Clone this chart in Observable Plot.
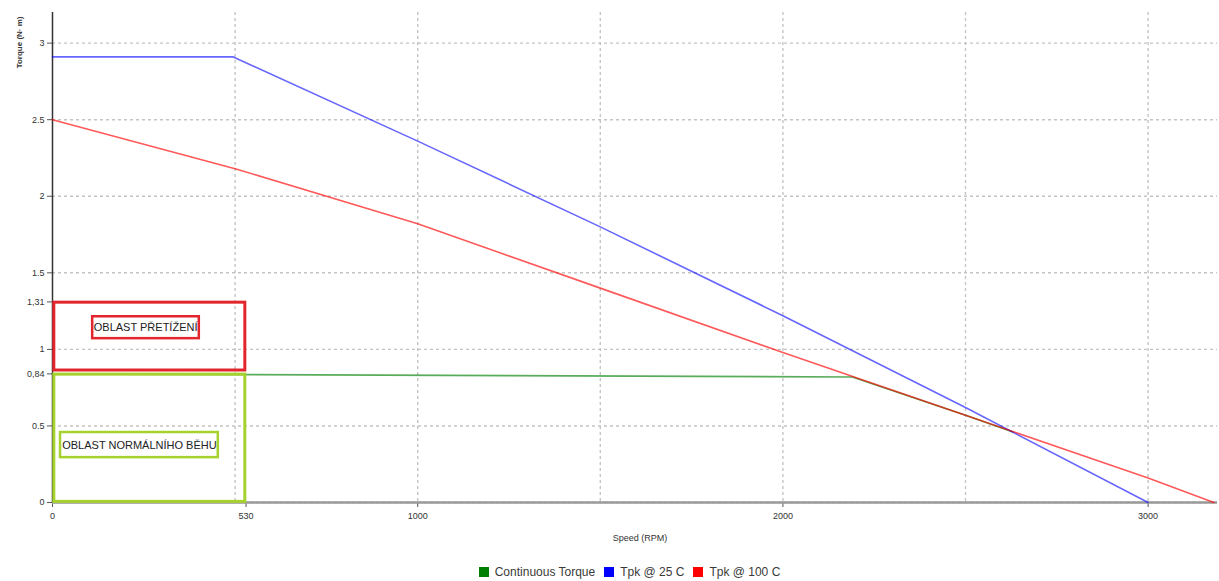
<!DOCTYPE html>
<html>
<head>
<meta charset="utf-8">
<script src="https://cdn.jsdelivr.net/npm/d3@7"></script>
<script src="https://cdn.jsdelivr.net/npm/@observablehq/plot@0.6"></script>
<style>
  body { margin: 0; background: #fff; font-family: "Liberation Sans", Arial, sans-serif; }
  #legend { display: flex; justify-content: center; gap: 9px; font-size: 12px; color: #3a3a3a; margin-top: 10px; padding-left: 40px; }
  #legend span.item { display: inline-flex; align-items: center; }
  #legend span.sw { display: inline-block; width: 10px; height: 10px; margin-right: 6px; }
</style>
</head>
<body>
<div id="chart"></div>
<div id="legend"></div>
<script>
// ---- data ----
const seriesNames = ["Continuous Torque", "Tpk @ 25 C", "Tpk @ 100 C"];
const seriesColors = ["#008000", "#0000ff", "#ff0000"];

const continuousSpeed  = [0, 2190, 2500, 2630];
const continuousTorque = [0.84, 0.82, 0.57, 0.46];

const tpk25Speed  = [0, 495, 1000, 1500, 2000, 2500, 3000];
const tpk25Torque = [2.91, 2.91, 2.36, 1.80, 1.22, 0.62, 0.0];

const tpk100Speed  = [0, 500, 1000, 1500, 2000, 2500, 3000, 3180];
const tpk100Torque = [2.50, 2.18, 1.82, 1.40, 0.98, 0.57, 0.16, 0.0];

const xTickValues = [0, 530, 1000, 2000, 3000];
const xTickLabels = ["0", "530", "1000", "2000", "3000"];
const yTickValues = [0, 0.5, 0.84, 1, 1.31, 1.5, 2, 2.5, 3];
const yTickLabels = ["0", "0.5", "0,84", "1", "1,31", "1.5", "2", "2.5", "3"];
const xGridValues = [500, 1000, 1500, 2000, 2500, 3000];
const yGridValues = [0, 0.5, 1, 1.5, 2, 2.5, 3];

// annotation regions (speed, torque extents)
const regionNames  = ["OBLAST PŘETÍŽENÍ", "OBLAST NORMÁLNÍHO BĚHU"];
const regionColors = ["#e3262d", "#a5d22c"];
const regionX1 = [5, 5];
const regionX2 = [528, 528];
const regionY1 = [0.862, 0.004];
const regionY2 = [1.305, 0.835];
const labelX   = [255, 238];
const labelY   = [1.14, 0.372];
const labelBoxX1 = [110, 22];
const labelBoxX2 = [402, 454];
const labelBoxY1 = [1.07, 0.293];
const labelBoxY2 = [1.213, 0.457];

// ---- build tables ----
const lineData = [];
[[continuousSpeed, continuousTorque], [tpk25Speed, tpk25Torque], [tpk100Speed, tpk100Torque]]
  .forEach(([xs, ys], i) => xs.forEach((x, j) => lineData.push({series: seriesNames[i], speed: x, torque: ys[j]})));
const regions = regionNames.map((name, i) => ({
  name, color: regionColors[i],
  x1: regionX1[i], x2: regionX2[i], y1: regionY1[i], y2: regionY2[i],
  lx: labelX[i], ly: labelY[i],
  bx1: labelBoxX1[i], bx2: labelBoxX2[i], by1: labelBoxY1[i], by2: labelBoxY2[i]
}));
const xFmt = new Map(xTickValues.map((v, i) => [v, xTickLabels[i]]));
const yFmt = new Map(yTickValues.map((v, i) => [v, yTickLabels[i]]));
const seriesOpacity = [0.65, 0.6, 0.65];

const chart = Plot.plot({
  width: 1219,
  height: 555,
  marginLeft: 52,
  marginRight: 2,
  marginTop: 12,
  marginBottom: 53,
  style: {fontFamily: "'Liberation Sans', Arial, sans-serif", background: "#fff", color: "#333"},
  x: {domain: [0, 3190]},
  y: {domain: [0, 3.2]},
  marks: [
    Plot.gridX(xGridValues, {stroke: "#c4c4c4", strokeOpacity: 1, strokeWidth: 1.4, strokeDasharray: "3,3"}),
    Plot.gridY(yGridValues, {stroke: "#c4c4c4", strokeOpacity: 1, strokeWidth: 1.4, strokeDasharray: "3,3"}),
    Plot.axisX({ticks: xTickValues, tickFormat: d => xFmt.get(d), tickSize: 5, tickPadding: 5, fontSize: 9, label: null, stroke: "#555"}),
    Plot.axisY({ticks: yTickValues, tickFormat: d => yFmt.get(d), tickSize: 5, tickPadding: 3, fontSize: 9, label: null, stroke: "#555"}),
    Plot.ruleY([0], {stroke: "#999", strokeWidth: 2.5}),
    Plot.ruleX([0], {y1: 0, y2: 3.2, stroke: "#333", strokeWidth: 1.5}),
    ...seriesNames.map((s, i) => Plot.line(lineData.filter(d => d.series === s), {
      x: "speed", y: "torque", stroke: seriesColors[i], strokeOpacity: seriesOpacity[i], strokeWidth: 1.6
    })),
    Plot.rect(regions, {x1: "x1", x2: "x2", y1: "y1", y2: "y2", stroke: d => d.color, fill: "none", strokeWidth: 3}),
    Plot.rect(regions, {x1: "bx1", x2: "bx2", y1: "by1", y2: "by2", stroke: d => d.color, fill: "white", strokeWidth: 2.5}),
    Plot.text(regions, {x: "lx", y: "ly", text: "name", fill: "#222", fontSize: 11, fontFamily: "'Liberation Sans Narrow', 'Liberation Sans', Arial, sans-serif"}),
    Plot.text(["Torque (N· m)"], {frameAnchor: "top-left", rotate: -90, textAnchor: "end", dx: -36, dy: 4, fontSize: 8, fontWeight: "bold", fill: "#333"}),
    Plot.text(["Speed (RPM)"], {frameAnchor: "bottom", dx: 5, dy: 38, fontSize: 9, fill: "#333"})
  ]
});
chart.setAttribute("color", "#333");
document.getElementById("chart").appendChild(chart);

const legend = document.getElementById("legend");
seriesNames.forEach((s, i) => {
  const item = document.createElement("span");
  item.className = "item";
  item.innerHTML = `<span class="sw" style="background:${seriesColors[i]}"></span>${s}`;
  legend.appendChild(item);
});
</script>
</body>
</html>
